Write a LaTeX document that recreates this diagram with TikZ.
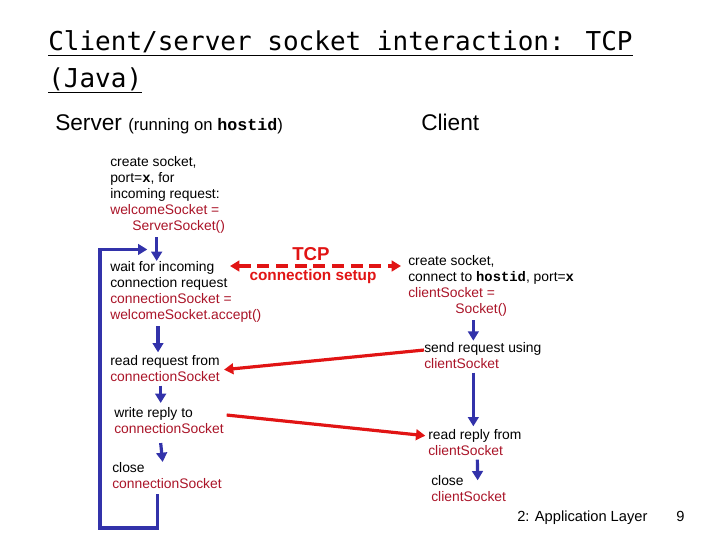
\documentclass[tikz,border=0pt]{standalone}
\usepackage{fontspec}
\setmainfont{Liberation Sans}
\setmonofont{Liberation Mono}
\newfontfamily\titlefont{DejaVu Sans Mono}
\usetikzlibrary{positioning, arrows.meta}
\definecolor{flowblue}{RGB}{50,50,170}
\definecolor{codered}{RGB}{170,20,40}
\definecolor{msgred}{RGB}{225,20,20}
\newcommand{\cred}[1]{\textcolor{codered}{#1}}
\newcommand{\kw}[1]{\texttt{\textbf{#1}}}
\begin{document}
\begin{tikzpicture}[x=0.75pt,y=-0.75pt,
  stage/.style={anchor=north west, inner sep=0pt, align=left, font=\fontsize{10.4}{12}\selectfont},
  flow/.style={draw=flowblue, line width=2.4pt, -{Triangle[length=7pt,width=8pt]}},
  msg/.style={draw=msgred, line width=2.4pt, -{Triangle[length=7pt,width=8pt]}}]
\useasboundingbox (0,0) rectangle (720,540);
% title
\node[anchor=west, inner sep=0pt, align=left, font=\titlefont\fontsize{19.5}{27.5}\selectfont] (title) at (48,62)
  {\underline{Client/server socket interaction: TCP}\\\underline{(Java)}};
\node[anchor=base west, inner sep=0pt, font=\fontsize{17}{20}\selectfont] (srv) at (55,130)
  {Server {\fontsize{12.5}{14}\selectfont (running on \kw{hostid})}};
\node[anchor=base west, inner sep=0pt, font=\fontsize{17}{20}\selectfont] (cli) at (421,130) {Client};

% server side
\node[stage] (create) at (110,156) {create socket,\\port=\kw{x}, for\\incoming request:\\\cred{welcomeSocket =}\\\cred{\hspace{1.6em}ServerSocket()}};
\node[stage] (wait) at (110,261) {wait for incoming\\connection request\\\cred{connectionSocket =}\\\cred{welcomeSocket.accept()}};
\node[stage] (readreq) at (110,355) {read request from\\\cred{connectionSocket}};
\node[stage] (write) at (114,407) {write reply to\\\cred{connectionSocket}};
\node[stage] (closeS) at (112,462) {close\\\cred{connectionSocket}};

% client side
\node[stage] (ccreate) at (408,255) {create socket,\\connect to \kw{hostid}, port=\kw{x}\\\cred{clientSocket =}\\\cred{\hspace{3.4em}Socket()}};
\node[stage] (sendreq) at (424,342) {send request using\\\cred{clientSocket}};
\node[stage] (readrep) at (428,429) {read reply from\\\cred{clientSocket}};
\node[stage] (closeC) at (431,475) {close\\\cred{clientSocket}};

% connection setup
\node[font=\bfseries\fontsize{14}{16}\selectfont, text=msgred, inner sep=0pt] (tcp) at (311,254) {TCP};
\node[font=\bfseries\fontsize{11.5}{14}\selectfont, text=msgred, inner sep=0pt] (setup) at (313,277) {connection setup};
\coordinate (tcpL) at (230,266);
\coordinate (tcpR) at (401,266);
\draw[msgred, line width=3pt, dash pattern=on 9pt off 5pt, {Triangle[length=7pt,width=8pt]}-{Triangle[length=7pt,width=8pt]}] (tcpL) -- (tcpR);

% server flow
\draw[flow] ([xshift=35pt,yshift=-3pt]create.south west) -- ([xshift=35pt]wait.north west);
\draw[flow] ([xshift=36pt,yshift=-3pt]wait.south west) -- ([xshift=36pt,yshift=2pt]readreq.north west);
\draw[flow] ([xshift=38pt,yshift=-3pt]readreq.south west) -- ([xshift=35pt,yshift=3pt]write.north west);
\draw[flow] ([xshift=35pt,yshift=-7pt]write.south west) -- ([xshift=38pt]closeS.north west);
\coordinate (loopL) at (100,528);
\draw[flow] ([xshift=34pt,yshift=-4pt]closeS.south west) |- (loopL) |- ([xshift=28pt,yshift=-12pt]create.south west);

% client flow
\draw[flow] ([xshift=49pt,yshift=-3pt]ccreate.south west) -- ([xshift=37pt,yshift=1pt]sendreq.north west);
\draw[flow] ([xshift=37pt,yshift=-3pt]sendreq.south west) -- ([xshift=34pt,yshift=2pt]readrep.north west);
\draw[flow] ([xshift=37pt,yshift=-3pt]readrep.south west) -- ([xshift=35pt,yshift=-4pt]closeC.north west);

% messages
\draw[msg] ([yshift=4pt]sendreq.west) -- ([xshift=3pt,yshift=-1pt]readreq.east);
\draw[msg] ([xshift=2pt,yshift=4pt]write.east) -- ([xshift=-2pt,yshift=5pt]readrep.west);

% footer
\node[anchor=base west, inner sep=0pt, font=\fontsize{11}{12}\selectfont] (foot) at (517,521) {2: Application Layer};
\node[anchor=base west, inner sep=0pt, font=\fontsize{11}{12}\selectfont] (page) at (676,521) {9};
\end{tikzpicture}
\end{document}
